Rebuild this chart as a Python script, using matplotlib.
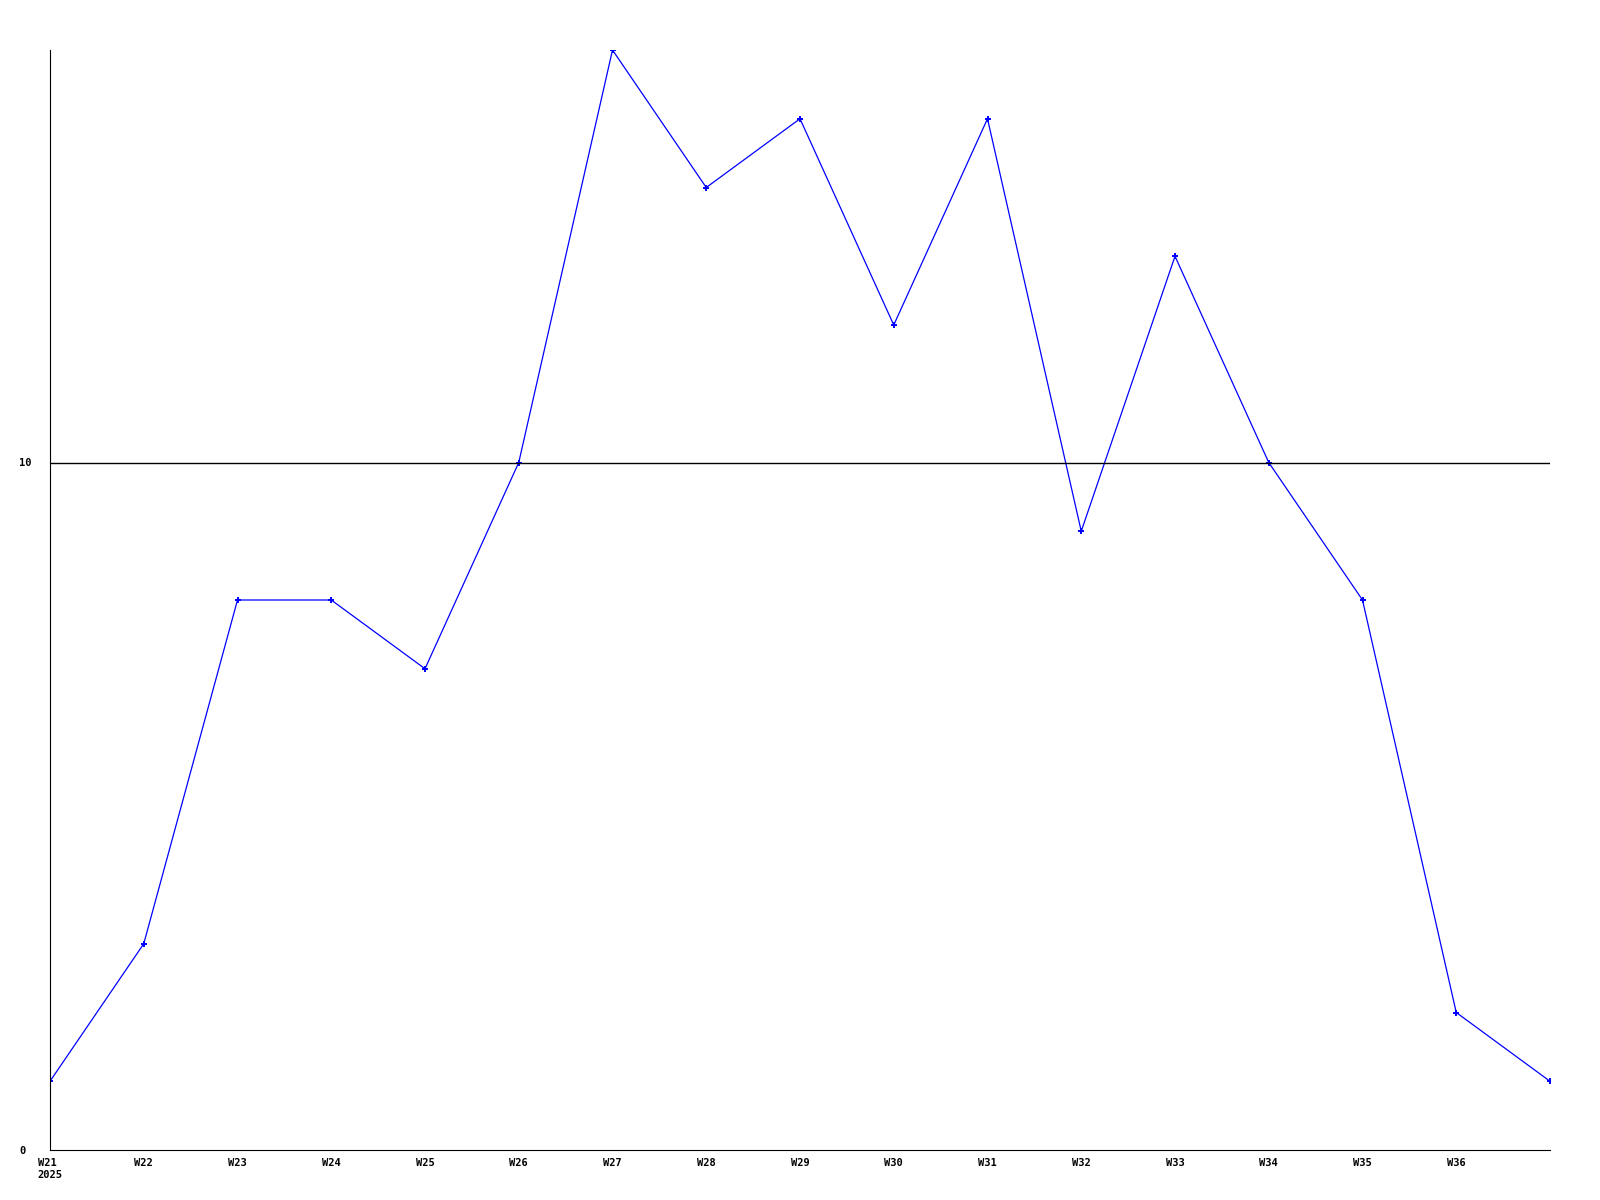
import matplotlib
matplotlib.use('Agg')
import matplotlib.pyplot as plt

weeks = ['W21', 'W22', 'W23', 'W24', 'W25', 'W26', 'W27', 'W28', 'W29', 'W30',
         'W31', 'W32', 'W33', 'W34', 'W35', 'W36', '']
values = [1, 3, 8, 8, 7, 10, 16, 14, 15, 12, 15, 9, 13, 10, 8, 2, 1]
year = '2025'

fig = plt.figure(figsize=(16, 12), dpi=100)
ax = fig.add_axes([50/1600, 50/1200, 1500/1600, 1100/1200])

x = list(range(len(values)))
ax.plot(x, values, color='#0000ff', lw=0.9, marker='+', ms=4, mew=1.4)
ax.axhline(10, color='black', lw=1)

ax.set_xlim(0, len(values) - 1)
ax.set_ylim(0, 16)
ax.set_yticks([0, 10])
ax.set_yticklabels(['0', '10'], ha='left')
ax.set_xticks(x)
labels = list(weeks)
labels[0] = weeks[0] + '\n' + year
ax.set_xticklabels(labels, ha='center', multialignment='left')
ax.tick_params(axis='x', length=0, labelsize=7.5, pad=6)
ax.tick_params(axis='y', length=0, labelsize=7.5, pad=22)
for lab in ax.get_xticklabels() + ax.get_yticklabels():
    lab.set_fontfamily('DejaVu Sans Mono')
    lab.set_fontweight('bold')
ax.spines['top'].set_visible(False)
ax.spines['right'].set_visible(False)

fig.savefig('out.png')
